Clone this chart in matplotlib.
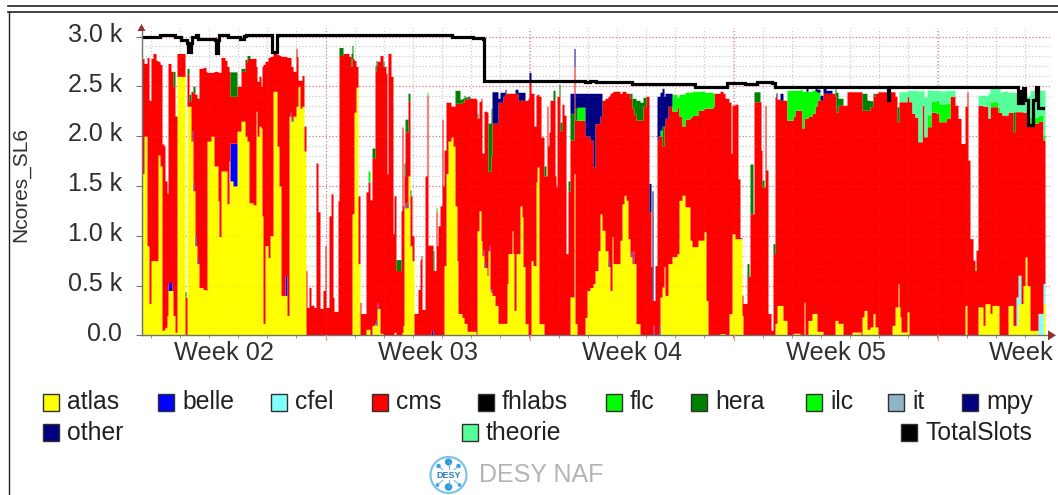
# coding=utf-8
# Ncores per group on the SL6 batch farm, rrdtool style stacked area
import numpy as np
import matplotlib
matplotlib.use('Agg')
import matplotlib.pyplot as plt
from matplotlib.patches import Rectangle, Circle, Polygon
from matplotlib.transforms import ScaledTranslation

plt.rcParams['font.family'] = ['Liberation Sans', 'DejaVu Sans']

# one sample is one pixel column of the original graph
samples = [142,144,147,149,151,153,156,158,160,162,164,165,
 167,168,171,173,175,177,185,187,189,191,193,195,
 197,199,203,206,207,211,214,218,219,221,225,227,
 229,230,233,237,241,245,247,249,253,256,257,259,
 261,262,263,265,268,270,273,277,279,281,287,289,
 291,293,296,297,298,300,302,304,306,307,309,311,
 314,316,318,320,323,325,326,329,331,333,334,338,
 339,343,349,351,352,354,356,358,360,361,366,368,
 370,372,375,376,377,380,383,386,387,388,391,393,
 394,396,401,402,403,404,405,408,410,412,414,418,
 420,421,422,425,427,428,433,436,437,438,440,442,
 443,444,446,448,451,453,455,457,458,462,464,467,
 476,477,479,481,482,484,487,488,490,491,492,495,
 498,503,505,507,508,512,513,514,516,518,520,522,
 523,525,528,529,531,533,534,536,537,539,541,544,
 547,548,549,550,555,556,557,560,562,564,566,568,
 570,574,575,577,585,587,590,593,595,598,600,602,
 605,608,610,612,613,620,622,624,626,628,630,632,
 634,636,640,643,646,649,651,652,655,657,658,660,
 662,664,665,668,672,677,679,682,685,690,692,698,
 703,704,706,708,713,714,720,723,725,729,731,732,
 735,738,740,742,743,747,750,754,761,762,765,766,
 768,771,773,775,777,780,783,787,793,795,800,802,
 804,805,808,812,815,817,823,835,836,838,843,847,
 852,861,862,864,867,870,873,875,878,892,895,897,
 898,899,900,901,907,909,912,915,918,922,924,927,
 931,936,939,946,950,955,958,961,965,967,968,970,
 973,975,976,978,983,985,988,990,992,998,999,1002,
 1008,1013,1015,1018,1023,1025,1027,1030,1038,1043,1045]

atlas = [1625,2000,900,320,750,750,750,1810,1700,50,60,80,
 200,450,450,200,30,2600,0,2300,2300,1950,1450,900,
 720,480,460,450,1950,2000,1700,1350,990,1650,1650,1320,
 1750,1550,1500,2050,2150,2000,1950,1330,1310,2250,2000,2100,
 2080,1200,120,900,780,1000,2450,1900,1500,400,200,2200,
 2150,2200,2300,2300,2500,2280,2300,1850,0,0,0,0,
 0,0,0,0,0,0,0,0,0,0,0,0,
 0,0,0,0,1220,2240,2490,720,0,0,60,60,
 0,100,120,100,270,20,0,0,0,0,0,0,
 30,0,0,30,100,1300,1280,1600,900,750,0,0,
 0,0,0,0,0,0,0,0,0,0,0,0,
 0,700,1625,1950,1990,1900,1300,750,218,180,120,40,
 0,1050,1250,950,800,680,600,850,450,430,400,300,
 120,120,120,520,820,1050,820,250,820,820,1300,1190,
 690,117,0,0,750,700,700,1540,1690,117,117,0,
 0,0,0,0,0,0,0,0,0,0,0,0,
 385,1625,117,0,180,450,480,520,650,850,1220,1055,
 850,690,450,990,720,955,1320,1406,1356,970,790,720,
 720,117,0,0,0,0,0,0,0,0,0,385,
 485,690,400,720,790,820,1355,1406,1290,955,890,955,
 955,1040,350,0,0,0,17,17,0,218,218,1020,
 970,970,970,200,0,0,0,0,0,0,0,0,
 0,0,0,120,300,300,150,0,20,20,0,0,
 335,0,150,220,220,40,0,150,150,120,0,0,
 33,0,184,250,60,84,218,84,0,100,285,285,
 520,285,184,33,235,0,0,0,0,0,0,0,
 0,0,0,0,0,0,0,0,300,0,0,0,
 0,0,0,285,100,318,318,220,300,300,0,0,
 300,100,100,318,500,787,500,50,0,320,320]

# top of the red cms band, atlas and belle below it included
cms_top = [2780,2730,2790,2360,2780,2830,2760,2750,2720,1920,1900,1550,
 1425,2730,2650,2500,2200,2830,380,2620,2350,2450,2430,2420,
 2380,2680,2690,2650,2640,2640,2650,2640,2640,2790,2760,2700,
 2650,2400,2400,2500,2650,2740,2780,2780,2780,2700,2550,2600,
 2500,2700,2720,2750,2790,2800,2830,2820,2810,2800,2790,2790,
 2700,2650,2880,2800,2560,2560,2610,2100,650,280,480,300,
 280,1730,1240,270,450,900,280,1200,1420,380,240,1350,
 2810,2830,2800,2700,2780,2760,2700,1400,330,218,1440,1540,
 1360,1780,2650,2700,2750,2810,2700,2630,1620,2830,2600,1020,
 1400,650,1250,2090,1300,1600,2040,2350,1400,1000,220,460,
 760,800,260,1600,2410,905,650,1250,900,1100,1300,2170,
 1500,1860,2340,2340,2300,2300,2330,2330,2330,2340,2370,2380,
 2370,2180,2350,2380,1830,2250,2240,1650,1650,1800,2130,2130,
 2340,2400,2430,2430,2430,2430,2430,2430,2430,2360,2360,2360,
 2360,2360,2380,2540,2430,2430,2100,2410,2420,2400,1990,1600,
 2300,1900,2040,2360,1600,1490,2400,2050,2320,2210,820,1450,
 1960,2700,2160,2160,2000,2000,1960,1690,2125,2125,2200,2360,
 2380,2400,2430,2440,2450,2430,2450,2450,2430,2430,2380,2280,
 2220,2160,2160,2300,2400,1240,690,350,700,1950,2000,2000,
 1900,2100,2180,2300,2250,2290,2200,2100,2170,2190,2210,2260,
 2270,2280,2280,2280,2300,2430,2450,2430,2380,2340,1825,2310,
 2320,1570,980,400,320,590,1220,2345,1860,1490,2310,1660,
 218,50,820,2395,2370,2360,2360,2160,2200,2260,2260,2080,
 2180,2180,2200,2230,2300,2360,2430,2400,2240,2310,2310,2445,
 2445,2445,2260,2260,2260,2295,2400,2430,2445,2445,2400,2144,
 2144,2345,2345,2345,2400,2345,2228,2190,1943,2310,1993,2094,
 2240,2230,2144,2180,2400,2310,2178,1926,2300,2445,1758,970,
 753,650,854,2310,2300,2300,2178,2295,2295,2240,2240,2211,
 2240,2044,2245,2245,2240,2240,2200,2127,2150,1960,1960]

# thin groups: each value holds from its sample to the next one
belle_x = [168,172,192,193,194,195,196,197,198,230,233,237,285,287,290,291,292,293,
           376,378,405,406,407,408,431,433,483,485,489,490,491,492,
           608,609,631,632,633,634,653,654,659,660]
belle = [80,0,100,80,0,100,0,50,0,380,430,0,200,0,40,0,30,0,
         60,0,50,0,60,0,50,0,60,0,50,0,40,0,
         60,0,50,0,130,0,100,0,100,0]

cfel_x = [1016,1021,1038,1043,1045]
cfel = [285,0,220,200,200]

flc_x = [368,370,427,428,436,437,577,585,660,662,
         672,677,679,682,685,690,692,698,704,713,714,
         787,793,795,800,802,804,808,812,815,817,820,
         927,931,936,939,946,950,975,976,990,1000,1030,1043,1045]
flc = [110,0,30,0,30,0,130,0,60,0,
       170,100,220,320,270,250,240,190,160,130,0,
       300,260,200,210,370,270,250,230,150,80,0,
       120,110,130,180,150,0,60,0,50,0,60,50,0]

hera_x = [173,175,185,186,187,189,191,193,195,230,237,241,245,250,
          339,343,351,353,372,375,377,383,384,396,401,404,408,410,411,
          433,434,455,460,465,470,477,478,488,492,
          544,546,553,555,559,560,562,568,570,574,575,577,
          630,632,634,636,640,643,646,662,664,
          747,749,750,753,754,760,762,764,773,775,
          835,836,838,843,862,867,870,873,875,
          897,899,1013,1015]
hera = [150,0,60,0,60,70,0,70,0,245,0,30,30,0,
        80,0,130,0,100,60,0,50,0,110,0,130,80,60,0,
        200,0,130,40,20,0,50,0,480,0,
        100,0,100,0,120,90,0,100,270,0,120,0,
        50,100,160,200,180,90,0,200,0,
        130,0,500,0,100,0,70,0,100,0,
        100,200,70,0,170,100,60,30,0,
        150,0,200,0]

mpy_x = [492,498,500,503,506,515,518,525,529,531,
         570,574,575,577,585,590,593,595,598,600,602,
         649,651,652,653,657,658,660,664,665,668,672,
         776,777,780,783,806,808,815,817,820,826,832]
mpy = [315,40,100,40,0,40,80,0,100,0,
       200,180,150,140,430,470,740,305,305,230,0,
       285,0,1100,0,450,400,380,300,250,130,0,
       40,0,70,0,40,0,50,30,50,30,0]

theorie_x = [899,907,909,912,915,918,922,924,927,931,936,939,946,950,955,
             978,983,985,988,990,998,1002,1008,1013,1015,1018,1027,1030,1038,1043,1045]
theorie = [100,60,115,230,270,510,150,400,250,110,100,130,130,60,0,
           100,110,110,250,160,200,240,200,200,190,190,200,270,250,450,0]

slots_x = [142,160,175,181,187,188,191,192,196,198,215,216,218,219,228,240,244,246,
           272,277,452,473,483,484,585,590,596,603,632,685,695,727,745,757,772,775,
           888,889,893,1018,1019,1021,1023,1025,1028,1033,1036,1038,1040,1043]
total_slots = [2990,3015,2990,2960,2930,2840,2930,3000,3015,2970,2960,2830,2960,3015,3000,2975,3010,3020,
               2840,3020,3000,2985,2970,2555,2540,2555,2540,2545,2525,2520,2490,2530,2520,2540,2530,2490,
               2360,2490,2490,2330,2450,2330,2480,2360,2110,2360,2490,2280,2280,2280]

week_labels = ['Week 02', 'Week 03', 'Week 04', 'Week 05', 'Week']
y_ticks = [0, 500, 1000, 1500, 2000, 2500, 3000]
y_labels = ['0.0', '0.5 k', '1.0 k', '1.5 k', '2.0 k', '2.5 k', '3.0 k']
legend_row1 = ['atlas', 'belle', 'cfel', 'cms', 'fhlabs', 'flc', 'hera', 'ilc', 'it', 'mpy']
legend_row2 = ['other', 'theorie', 'TotalSlots']

colors = {'atlas': '#ffff00', 'belle': '#0000ff', 'cfel': '#80ffff', 'cms': '#ff0000',
          'fhlabs': '#000000', 'flc': '#00ff00', 'hera': '#008000', 'ilc': '#00ff00',
          'it': '#8fb4c8', 'mpy': '#000080', 'other': '#000080', 'theorie': '#55ff99',
          'TotalSlots': '#000000'}

W, H = 1058, 495
Y0, PX_PER_K = 335.3, 99.6   # pixel row of zero, pixels per 1000 cores
WEEK = 204.0
FIRST_WEEK = 121.5


def on_grid(x, v, grid):
    # value of a step series at the grid samples, zero before its first sample
    x = np.asarray(x)
    v = np.asarray(v, dtype=float)
    i = np.searchsorted(x, grid, side='right') - 1
    return np.where(i < 0, 0.0, v[np.clip(i, 0, None)])


grid = np.array(sorted(set(samples) | set(belle_x) | set(cfel_x) | set(flc_x) | set(hera_x)
                       | set(mpy_x) | set(theorie_x)), dtype=float)
atlas_g = on_grid(samples, atlas, grid)
belle_g = on_grid(belle_x, belle, grid)
cfel_g = on_grid(cfel_x, cfel, grid)
cms_g = np.clip(on_grid(samples, cms_top, grid) - atlas_g - belle_g - cfel_g, 0, None)
layers = [('atlas', atlas_g), ('belle', belle_g), ('cfel', cfel_g), ('cms', cms_g),
          ('flc', on_grid(flc_x, flc, grid)), ('hera', on_grid(hera_x, hera, grid)),
          ('mpy', on_grid(mpy_x, mpy, grid)), ('theorie', on_grid(theorie_x, theorie, grid))]

fig = plt.figure(figsize=(W / 100, H / 100), dpi=100, facecolor='white')

# axes placed so that one sample is one pixel
left, right, top = 141.5, 1050.0, 28.0
ax = fig.add_axes([left / W, 1 - Y0 / H, (right - left) / W, (Y0 - top) / H])
ax.set_xlim(left, right)
ax.set_ylim(0, (Y0 - top) / PX_PER_K * 1000)

base = np.zeros_like(grid)
for name, vals in layers:
    ax.fill_between(grid, base, base + vals, step='post', color=colors[name], linewidth=0, zorder=2)
    base = base + vals
ax.step(slots_x, total_slots, where='post', color='black', linewidth=2.3, zorder=4,
        solid_joinstyle='miter')

# grid, clear on white and barely there over the areas
week_edges = np.arange(1, 5) * WEEK + FIRST_WEEK
day_edges = np.arange(FIRST_WEEK + WEEK / 7, right, WEEK / 7)
for z, a in [(1, 0.7), (3, 0.12)]:
    for x in day_edges:
        ax.axvline(x, color='#b0b0b0', linewidth=0.8, linestyle=(0, (1, 2)), alpha=a, zorder=z)
    for y in np.arange(100, 3100, 100):
        ax.axhline(y, color='#b0b0b0', linewidth=0.8, linestyle=(0, (1, 2)), alpha=a, zorder=z)
    for x in week_edges:
        ax.axvline(x, color='#ff5050', linewidth=0.8, linestyle=(0, (1, 2)), alpha=a, zorder=z)
    for y in y_ticks[1:]:
        ax.axhline(y, color='#ff5050', linewidth=0.8, linestyle=(0, (1, 2)), alpha=a, zorder=z)

for s in ['top', 'right']:
    ax.spines[s].set_visible(False)
for s in ['left', 'bottom']:
    ax.spines[s].set_color('#707070')
    ax.spines[s].set_linewidth(1.0)
    ax.spines[s].set_zorder(5)

ax.set_yticks(y_ticks)
ax.set_yticklabels(y_labels, fontsize=18, color='#303030')
ax.tick_params(axis='y', length=4, width=0.8, color='#707070', pad=10)
up = ScaledTranslation(0, 3 / 72, fig.dpi_scale_trans)
for lab in ax.get_yticklabels():
    lab.set_transform(lab.get_transform() + up)
ax.set_xticks([223.5, 427.5, 631.5, 835.5, 1021])
ax.set_xticklabels(week_labels, fontsize=18.3, color='#303030')
ax.tick_params(axis='x', which='major', length=0, pad=4)
ax.set_xticks(day_edges, minor=True)
ax.tick_params(axis='x', which='minor', length=2, width=0.7, color='#909090')

# overlay in pixel coordinates for everything around the plot
ov = fig.add_axes([0, 0, 1, 1], facecolor='none')
ov.set_xlim(0, W)
ov.set_ylim(H, 0)
ov.axis('off')

ov.plot([8, W], [5.5, 5.5], color='#202020', linewidth=1.2)
ov.plot([8, W], [11.5, 11.5], color='#202020', linewidth=1.2)
ov.plot([8.5, 8.5], [11.5, H], color='#202020', linewidth=1.0)

ov.text(21, 185, 'Ncores_SL6', rotation=90, ha='center', va='center', fontsize=15, color='#303030')

# axis arrows
ov.add_patch(Polygon([[1056, Y0], [1048, Y0 - 5], [1048, Y0 + 5]], color='#903030', linewidth=0))
ov.add_patch(Polygon([[141.5, 24], [137.5, 31], [145.5, 31]], color='#903030', linewidth=0))
for x in week_edges:
    ov.plot([x, x], [Y0, Y0 + 5], color='#ff9090', linewidth=0.8)

# legend
row1_sw = [43, 158, 271, 372, 478, 606, 691, 806, 888, 962]
for x, name in zip(row1_sw, legend_row1):
    ov.add_patch(Rectangle((x, 394), 15.5, 17, facecolor=colors[name], edgecolor='#303030', linewidth=1.0))
    ov.text(x + 24, 402, name, fontsize=17.8, va='center', ha='left', color='#202020')
row2_sw = [43, 462, 901]
for x, name in zip(row2_sw, legend_row2):
    ov.add_patch(Rectangle((x, 424), 15.5, 17, facecolor=colors[name], edgecolor='#303030', linewidth=1.0))
    ov.text(x + 24, 433, name, fontsize=17.8, va='center', ha='left', color='#202020')

# DESY logo and footer
cx, cy = 448.5, 475
ov.add_patch(Circle((cx, cy), 18, facecolor='white', edgecolor='#7cc4ec', linewidth=1.6))
for dx, dy, r in [(0, -13, 3.6), (0, 12, 3.8), (-10, -9, 2.2), (10, -9, 2.2), (-11, 10, 1.8), (11, 10, 1.8)]:
    ov.plot([cx, cx + dx], [cy, cy + dy], color='#5ab4e6', linewidth=0.7)
    ov.add_patch(Circle((cx + dx, cy + dy), r, facecolor='#2f9ade', edgecolor='none'))
ov.text(cx, cy, 'DESY', fontsize=6.5, ha='center', va='center', color='#2a7fb8', fontweight='bold',
        bbox=dict(facecolor='white', edgecolor='none', pad=0.5))
ov.text(479, 475, 'DESY NAF', fontsize=18, ha='left', va='center', color='#b4b4b4')

fig.savefig('out.png', dpi=100)
